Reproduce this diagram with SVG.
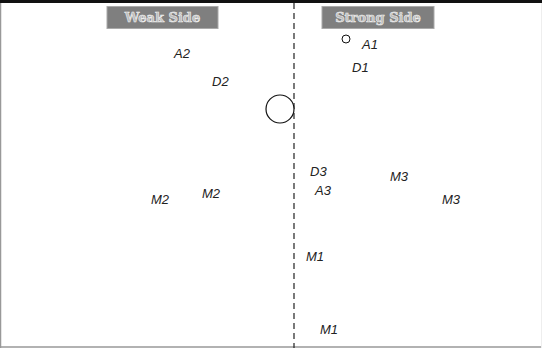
<svg xmlns="http://www.w3.org/2000/svg" width="542" height="348" viewBox="0 0 542 348">
<style>
.lbl{font-family:"Liberation Sans","DejaVu Sans",sans-serif;font-style:italic;font-size:13px;fill:#222}
.hdr rect{fill:#7f7f7f;stroke:#aaa;stroke-width:1}
.hdr text{font-family:"DejaVu Serif","Liberation Serif",serif;font-weight:bold;font-size:13px;fill:#bbb;stroke:#eee;stroke-width:0.6;text-anchor:middle}
</style>
<rect x="0" y="0" width="542" height="348" fill="#fff"/>
<rect x="0" y="0" width="542" height="3" fill="#111"/>
<line x1="0.5" y1="3" x2="0.5" y2="348" stroke="#999" stroke-width="1.5"/>
<line x1="0" y1="347" x2="542" y2="347" stroke="#999" stroke-width="1.5"/>
<line x1="541.5" y1="3" x2="541.5" y2="348" stroke="#eee" stroke-width="1"/>
<g id="connectors">
<line x1="294" y1="3" x2="294" y2="348" stroke="#222" stroke-width="1.2" stroke-dasharray="6,4"/>
</g>
<g id="weak" class="hdr"><rect x="107" y="6.5" width="111" height="22"/><text x="162.5" y="22">Weak Side</text></g>
<g id="strong" class="hdr"><rect x="322" y="6.5" width="112" height="22"/><text x="378" y="22">Strong Side</text></g>
<g id="ball"><circle cx="280" cy="109" r="14" fill="#fff" stroke="#111" stroke-width="1.2"/></g>
<g id="small"><circle cx="346" cy="39" r="4" fill="#fff" stroke="#111" stroke-width="1"/></g>
<g id="A2"><text class="lbl" x="174" y="58">A2</text></g>
<g id="D2"><text class="lbl" x="212" y="86">D2</text></g>
<g id="A1"><text class="lbl" x="362" y="49">A1</text></g>
<g id="D1"><text class="lbl" x="352" y="72">D1</text></g>
<g id="D3"><text class="lbl" x="310" y="176">D3</text></g>
<g id="A3"><text class="lbl" x="315" y="195">A3</text></g>
<g id="M3a"><text class="lbl" x="390" y="181">M3</text></g>
<g id="M3b"><text class="lbl" x="442" y="204">M3</text></g>
<g id="M2a"><text class="lbl" x="151" y="204">M2</text></g>
<g id="M2b"><text class="lbl" x="202" y="198">M2</text></g>
<g id="M1a"><text class="lbl" x="306" y="261">M1</text></g>
<g id="M1b"><text class="lbl" x="320" y="334">M1</text></g>
</svg>
